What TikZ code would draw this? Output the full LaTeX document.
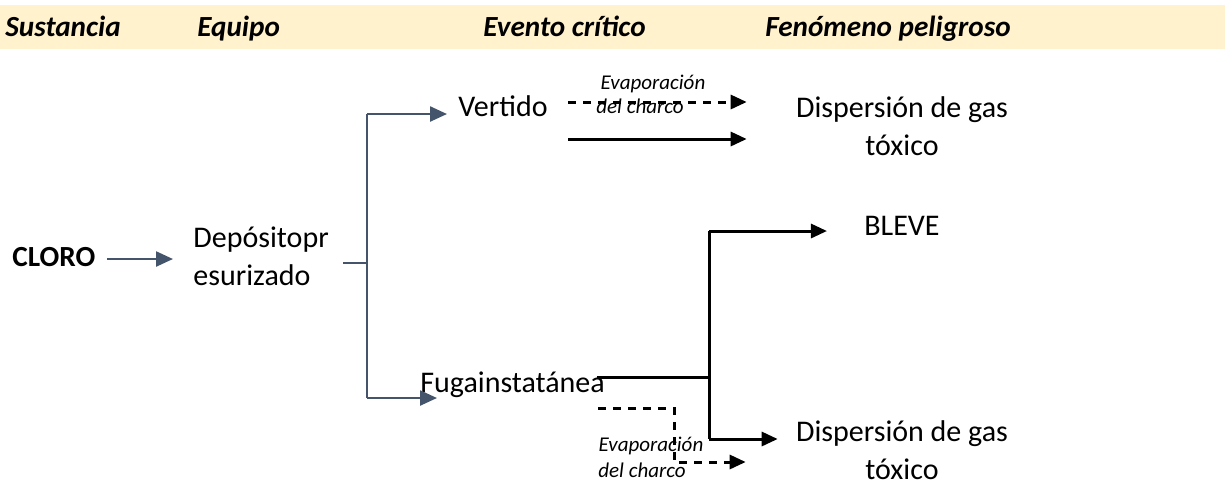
\documentclass[tikz,border=0pt]{standalone}
\usepackage{fontspec}
\setmainfont{Carlito}
\usetikzlibrary{arrows.meta, positioning, calc}
\definecolor{slate}{HTML}{44546A}
\definecolor{bandyellow}{HTML}{FFF2CC}
\tikzset{
    colhead/.style={anchor=base west, inner sep=0pt, font=\fontsize{14.6}{17}\selectfont\bfseries\itshape},
    itemtext/.style={inner sep=0pt, font=\fontsize{15}{19}\selectfont},
    notetext/.style={anchor=base, inner sep=0pt, font=\fontsize{10.5}{12}\selectfont\itshape},
    slatearrow/.style={-{Triangle[length=8.5pt,width=7.5pt]}, line width=1.2pt, draw=slate},
    slateline/.style={line width=1.2pt, draw=slate},
    flowarrow/.style={-{Triangle[length=8pt,width=7pt]}, line width=1.5pt},
    flowline/.style={line width=1.5pt},
    evaparrow/.style={flowarrow, dash pattern=on 4pt off 3.5pt},
    evapline/.style={flowline, dash pattern=on 4pt off 3.5pt}
}

\begin{document}
\begin{tikzpicture}[x=0.5pt, y=-0.5pt]
    \useasboundingbox (0,0) rectangle (1225,484);
    \fill[bandyellow] (0,5) rectangle (1225,49);

    % Column headers
    \node[colhead] (hsus) at (5,36) {Sustancia};
    \node[colhead] (hequ) at (197,36) {Equipo};
    \node[colhead] (heve) at (483,36) {Evento crítico};
    \node[colhead] (hfen) at (765,36) {Fenómeno peligroso};

    % Items
    \node[itemtext, anchor=base west, font=\fontsize{14.6}{19}\selectfont\bfseries] (cloro) at (12,266) {CLORO};
    \node[itemtext, anchor=base west, align=left] (deposito) at (193,285) {Depósitopr\\esurizado};
    \node[itemtext, anchor=base west] (vertido) at (458,116) {Vertido};
    \node[itemtext, anchor=base west] (fuga) at (420,392) {Fugainstatánea};
    \node[itemtext, anchor=base, align=center] (disp1) at (902,155) {Dispersión de gas\\tóxico};
    \node[itemtext, anchor=base] (bleve) at (902,235) {BLEVE};
    \node[itemtext, anchor=base, align=center] (disp2) at (902,479) {Dispersión de gas\\tóxico};

    % Notes
    \node[notetext] (evap1) at (653,89) {Evaporación};
    \node[notetext] (charco1) at (640,113) {del charco};
    \node[notetext] (evap2) at (651,451) {Evaporación};
    \node[notetext] (charco2) at (642,477) {del charco};

    % Substance to equipment
    \coordinate (cloroout) at (107,259);
    \draw[slatearrow, shorten >=10pt] (cloroout) -- (cloroout -| deposito.west);

    % Equipment branches
    \coordinate (stub) at (343,263);
    \coordinate (split) at (367,263);
    \coordinate (splittop) at (367,114);
    \coordinate (splitbot) at (367,398);
    \draw[slateline] (stub) -- (split);
    \draw[slateline] (splittop) -- (splitbot);
    \draw[slatearrow, shorten >=5.5pt] (splittop) -- (splittop -| vertido.west);
    \draw[slatearrow, shorten >=-8.5pt] (splitbot) -- (splitbot -| fuga.west);

    % Vertido
    \coordinate (vdash) at (568,102);
    \coordinate (vsolid) at (568,139);
    \draw[evaparrow, shorten >=24.5pt] (vdash) -- (vdash -| disp1.west);
    \draw[flowarrow, shorten >=24.5pt] (vsolid) -- (vsolid -| disp1.west);

    % Fuga instantanea
    \coordinate (fout) at (597,377);
    \coordinate (fsplit) at (709,377);
    \coordinate (fup) at (709,231);
    \coordinate (fdown) at (709,439);
    \draw[flowline] (fout) -- (fsplit);
    \draw[flowline] (fup) -- (fdown);
    \draw[flowarrow, shorten >=18.5pt] (fup) -- (fup -| bleve.west);
    \draw[flowarrow, shorten >=9pt] (fdown) -- (fdown -| disp2.west);
    \coordinate (fdash) at (598,408);
    \coordinate (fbend) at (674,462);
    \draw[evaparrow, shorten >=25pt] (fdash) -| (fbend) -- (fbend -| disp2.west);
\end{tikzpicture}
\end{document}
